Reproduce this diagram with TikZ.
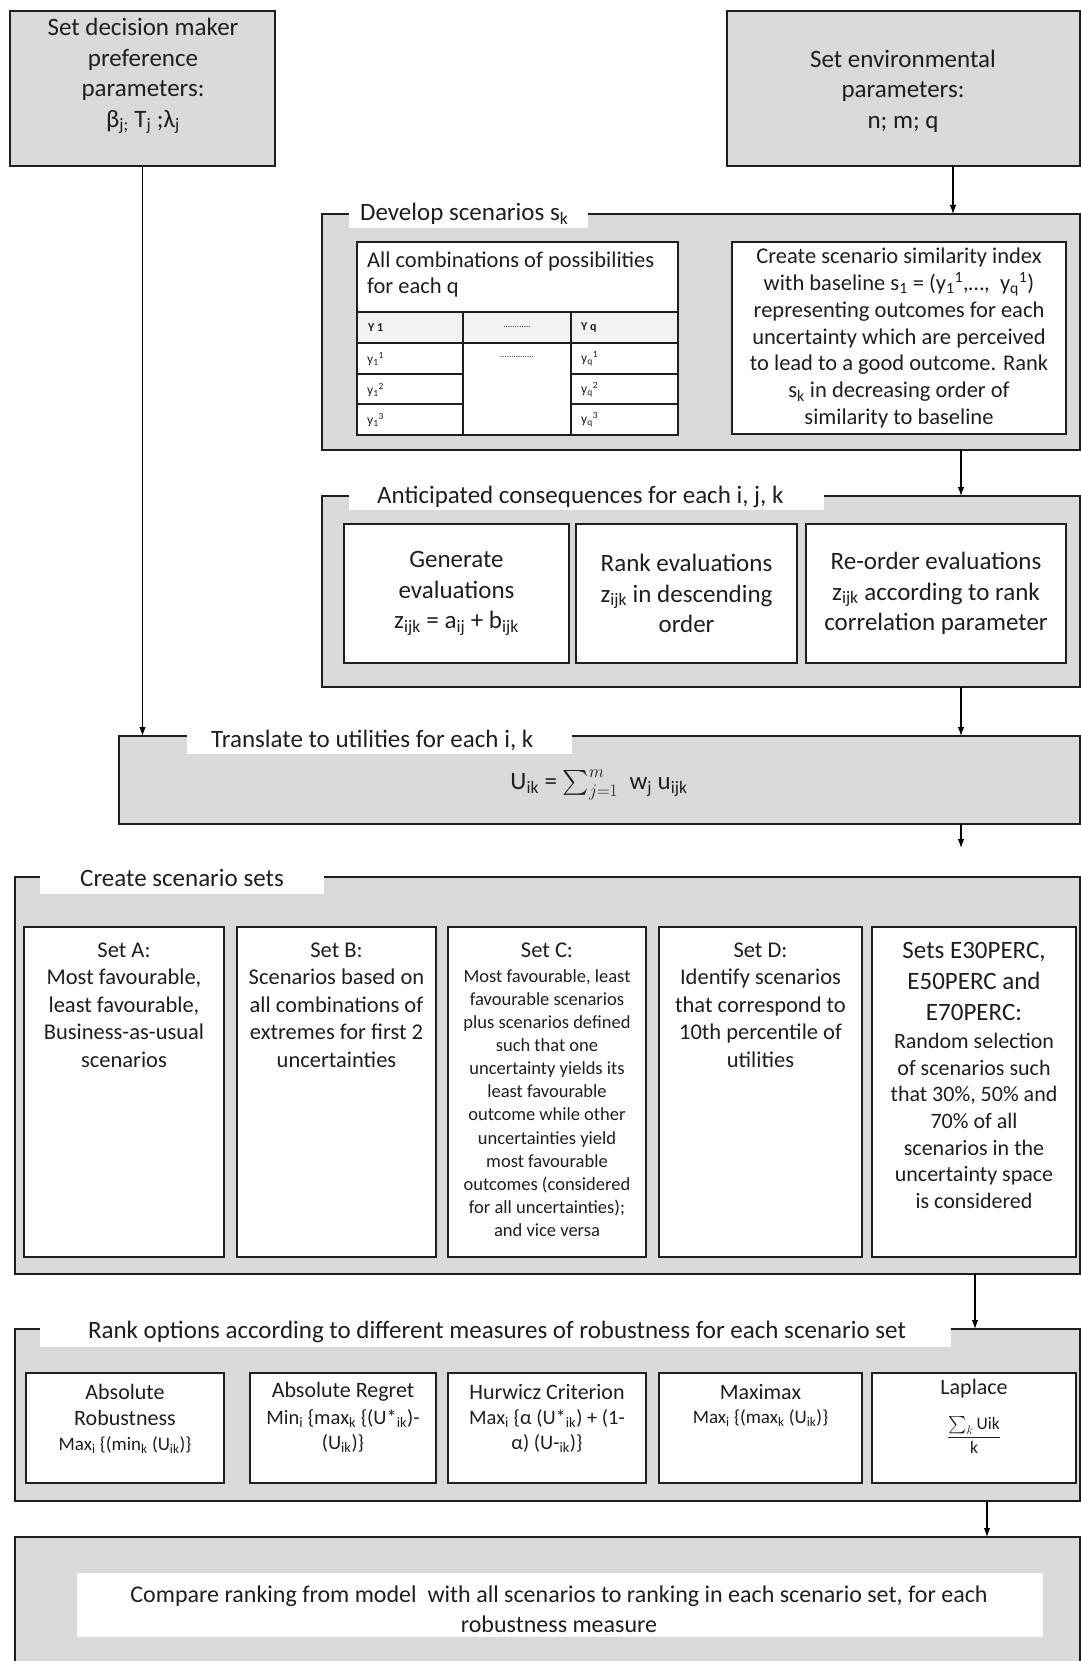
\RequirePackage{fix-cm}
\documentclass[tikz,border=0pt]{standalone}
\usepackage{amsmath}
\usepackage{fontspec}
\setmainfont{Carlito}
\usetikzlibrary{arrows.meta}
\definecolor{panel}{HTML}{D9D9D9}
\definecolor{ink}{HTML}{1E1E1E}
\definecolor{hdr}{HTML}{F2F2F2}
\newcommand\sbx[1]{\textsubscript{#1}}
\newcommand\spx[1]{\textsuperscript{#1}}
\newcommand\fs[2]{\fontsize{#1}{#2}\selectfont}
\begin{document}
\begin{tikzpicture}[x=1pt,y=-1pt, font=\fs{25}{30.5}, text=ink,
  frame/.style={draw=ink, line width=1.8pt, fill=panel, anchor=north west, inner sep=0pt, outer sep=0pt},
  wbox/.style={draw=ink, line width=1.8pt, fill=white, anchor=north west, inner sep=0pt, outer sep=0pt, align=center},
  tag/.style={fill=white, anchor=north west, inner sep=0pt, outer sep=0pt},
  txt/.style={align=center, inner sep=0pt, text=ink},
  flow/.style={draw=black, line width=1.1pt, -{Latex[length=9pt,width=6.5pt]}},
]
\useasboundingbox (0,0) rectangle (1080,1661);
\fill[white] (0,0) rectangle (1080,1661);

% ---------- top boxes ----------
\node[frame, minimum width=265pt, minimum height=155pt] (dm) at (10,11) {};
\node[txt] (dmt) at (143,76) {Set decision maker\\preference\\parameters:\\β\sbx{j;} T\sbx{j} ;λ\sbx{j}};
\node[frame, minimum width=353pt, minimum height=155pt] (env) at (727,11) {};
\node[txt] (envt) at (903,91) {Set environmental\\parameters:\\n; m; q};

% ---------- develop scenarios ----------
\node[frame, minimum width=758pt, minimum height=236pt] (dev) at (322,214) {};
\node[tag, minimum width=239pt, minimum height=28pt] (devl) at (349,200) {};
\node[txt, anchor=west] (devt) at (360,214) {Develop scenarios s\sbx{k}};

\node[wbox, minimum width=321pt, minimum height=193pt] (tbl) at (357,242) {};
\fill[hdr] (358,313) rectangle (677,342);
\draw[ink, line width=1.8pt] (357,312) -- (678,312) (357,343) -- (678,343)
  (357,374) -- (463,374) (357,404) -- (463,404)
  (571,374) -- (678,374) (571,404) -- (678,404)
  (463,312) -- (463,435) (571,312) -- (571,435);
\node[txt, anchor=west, align=left, font=\fs{22.5}{26.5}] (tblt) at (367,274.5) {All combinations of possibilities\\for each q};
\node[txt, anchor=west, font=\fs{12}{14}\bfseries] (h1) at (368,328) {Y 1};
\node[txt, font=\fs{9}{11}] (h2) at (517,327) {............};
\node[txt, anchor=west, font=\fs{12}{14}\bfseries] (h3) at (581,328) {Y q};
\node[txt, font=\fs{9}{11}] (m2) at (517,357) {...............};
\node[txt, anchor=west, font=\fs{13.5}{15}] (c11) at (367,359) {y\sbx{1}\spx{1}};
\node[txt, anchor=west, font=\fs{13.5}{15}] (c12) at (367,390) {y\sbx{1}\spx{2}};
\node[txt, anchor=west, font=\fs{13.5}{15}] (c13) at (367,420) {y\sbx{1}\spx{3}};
\node[txt, anchor=west, font=\fs{13.5}{15}] (c31) at (581,359) {y\sbx{q}\spx{1}};
\node[txt, anchor=west, font=\fs{13.5}{15}] (c32) at (581,390) {y\sbx{q}\spx{2}};
\node[txt, anchor=west, font=\fs{13.5}{15}] (c33) at (581,420) {y\sbx{q}\spx{3}};

\node[wbox, minimum width=334pt, minimum height=192pt] (sim) at (732,242) {};
\node[txt, font=\fs{22.5}{26.9}] (simt) at (899,338) {Create scenario similarity index\\with baseline s\sbx{1} = (y\sbx{1}\spx{1},…,\ \ y\sbx{q}\spx{1})\\representing outcomes for each\\uncertainty which are perceived\\to lead to a good outcome. Rank\\s\sbx{k} in decreasing order of\\similarity to baseline};

% ---------- anticipated consequences ----------
\node[frame, minimum width=758pt, minimum height=191pt] (ant) at (322,496) {};
\node[tag, minimum width=475pt, minimum height=28pt] (antl) at (349,482) {};
\node[txt, anchor=west] (antt) at (377,497) {Anticipated consequences for each i, j, k};
\node[wbox, minimum width=225pt, minimum height=139pt] (gen) at (344,524) {Generate\\evaluations\\z\sbx{ijk} = a\sbx{ij} + b\sbx{ijk}};
\node[wbox, minimum width=221pt, minimum height=139pt] (rnk) at (576,524) {Rank evaluations\\z\sbx{ijk} in descending\\order};
\node[wbox, minimum width=260pt, minimum height=139pt] (reo) at (806,524) {Re-order evaluations\\z\sbx{ijk} according to rank\\correlation parameter};

% ---------- translate ----------
\node[frame, minimum width=961pt, minimum height=88pt] (tr) at (119,736) {};
\node[tag, minimum width=385pt, minimum height=30pt] (trl) at (187,724) {};
\node[txt, anchor=west] (trt) at (211,740) {Translate to utilities for each i, k};
\node[txt] (trf) at (599,785) {U\sbx{ik} = $\sum_{j=1}^{m}$\ \ w\sbx{j} u\sbx{ijk}};

% ---------- create scenario sets ----------
\node[frame, minimum width=1065pt, minimum height=397pt] (cs) at (15,877) {};
\node[tag, minimum width=284pt, minimum height=32pt] (csl) at (40,862) {};
\node[txt] (cst) at (182,878) {Create scenario sets};
\node[wbox, minimum width=200pt, minimum height=330pt] (sa) at (24,927) {};
\node[wbox, minimum width=199pt, minimum height=330pt] (sb) at (237,927) {};
\node[wbox, minimum width=198pt, minimum height=330pt] (sc) at (448,927) {};
\node[wbox, minimum width=203pt, minimum height=330pt] (sd) at (659,927) {};
\node[wbox, minimum width=204pt, minimum height=330pt] (se) at (872,927) {};
\node[txt, font=\fs{22.5}{27.5}] (sat) at (124,1005) {Set A:\\Most favourable,\\least favourable,\\Business-as-usual\\scenarios};
\node[txt, font=\fs{22.5}{27.5}] (sbt) at (336.5,1005) {Set B:\\Scenarios based on\\all combinations of\\extremes for first 2\\uncertainties};
\node[txt, font=\fs{22.5}{27.5}] (sch) at (547,950) {Set C:};
\node[txt, font=\fs{18.5}{23.1}] (sct) at (547,1103) {Most favourable, least\\favourable scenarios\\plus scenarios defined\\such that one\\uncertainty yields its\\least favourable\\outcome while other\\uncertainties yield\\most favourable\\outcomes (considered\\for all uncertainties);\\and vice versa};
\node[txt, font=\fs{22.5}{27.5}] (sdt) at (760.5,1005) {Set D:\\Identify scenarios\\that correspond to\\10th percentile of\\utilities};
\node[txt, font=\fs{25}{31}] (seh) at (974,981) {Sets E30PERC,\\E50PERC and\\E70PERC:};
\node[txt, font=\fs{22}{26.7}] (set) at (974,1121) {Random selection\\of scenarios such\\that 30\%, 50\% and\\70\% of all\\scenarios in the\\uncertainty space\\is considered};

% ---------- rank options ----------
\node[frame, minimum width=1065pt, minimum height=172pt] (rk) at (15,1329) {};
\node[tag, minimum width=911pt, minimum height=32pt] (rkl) at (40,1315) {};
\node[txt] (rkt) at (497,1332) {Rank options according to different measures of robustness for each scenario set};
\node[wbox, minimum width=198pt, minimum height=110pt] (ra) at (26,1373) {};
\node[wbox, minimum width=186pt, minimum height=110pt] (rb) at (250,1373) {};
\node[wbox, minimum width=198pt, minimum height=110pt] (rc) at (448,1373) {};
\node[wbox, minimum width=203pt, minimum height=110pt] (rd) at (659,1373) {};
\node[wbox, minimum width=204pt, minimum height=110pt] (re) at (872,1373) {};
\node[txt, font=\fs{22}{26}] (rah) at (125,1405) {Absolute\\Robustness};
\node[txt, font=\fs{19}{25}] (raf) at (125,1445) {Max\sbx{i} \{(min\sbx{k} (U\sbx{ik})\}};
\node[txt, font=\fs{22}{26}] (rbh) at (343,1392) {Absolute Regret};
\node[txt, font=\fs{20.5}{25}] (rbf) at (343,1431) {Min\sbx{i} \{max\sbx{k} \{(U*\sbx{ik})-\\(U\sbx{ik})\}};
\node[txt, font=\fs{22}{26}] (rch) at (547,1392) {Hurwicz Criterion};
\node[txt, font=\fs{20.5}{25}] (rcf) at (547,1431) {Max\sbx{i} \{α (U*\sbx{ik}) + (1-\\α) (U-\sbx{ik})\}};
\node[txt, font=\fs{22}{26}] (rdh) at (760.5,1392) {Maximax};
\node[txt, font=\fs{19}{25}] (rdf) at (760.5,1418) {Max\sbx{i} \{(max\sbx{k} (U\sbx{ik})\}};
\node[txt, font=\fs{22}{26}] (reh) at (974,1389) {Laplace};
\node[txt, font=\fs{17.5}{21}] (ref) at (974,1435) {$\displaystyle\frac{\sum\nolimits_{k}\mathrm{Uik}}{\mathrm{k}}$};

% ---------- compare ----------
\node[frame, minimum width=1065pt, minimum height=140pt] (cmp) at (15,1537) {};
\node[tag, minimum width=966pt, minimum height=64pt] (cmpi) at (77,1573) {};
\node[txt, font=\fs{24}{30}] (cmpt) at (559,1609) {Compare ranking from model\ \ with all scenarios to ranking in each scenario set, for each\\robustness measure};

% ---------- connectors ----------
\coordinate (colE) at (953,0);
\coordinate (colA) at (961,0);
\coordinate (colB) at (975,0);
\coordinate (colC) at (987,0);
\coordinate (a5end) at (961,848);
\draw[flow] (dm.south) -- (dm.south |- tr.north);
\draw[flow] (env.south -| colE) -- (dev.north -| colE);
\draw[flow] (dev.south -| colA) -- (ant.north -| colA);
\draw[flow] (ant.south -| colA) -- (tr.north -| colA);
\draw[flow] (tr.south -| colA) -- (a5end);
\draw[flow] (cs.south -| colB) -- (rk.north -| colB);
\draw[flow] (rk.south -| colC) -- (cmp.north -| colC);
\end{tikzpicture}
\end{document}
